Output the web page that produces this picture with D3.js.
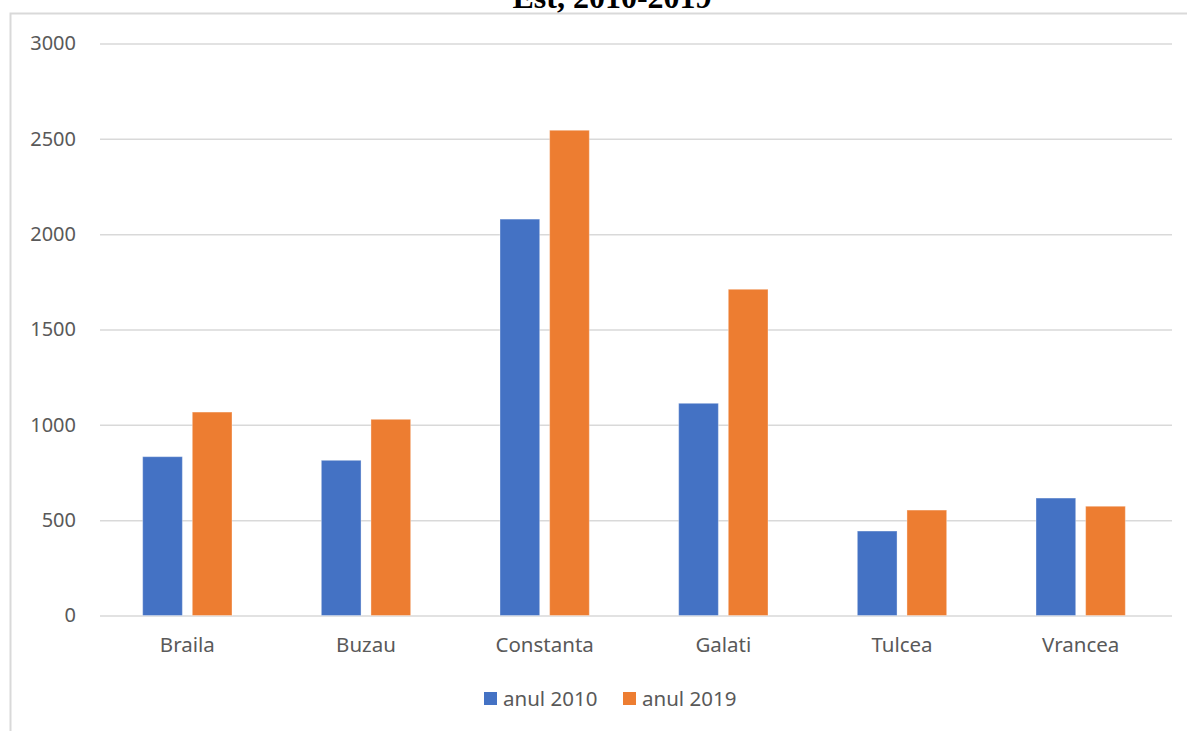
<!DOCTYPE html>
<html><head><meta charset="utf-8">
<script src="https://cdn.jsdelivr.net/npm/d3@7"></script>
<style>body{margin:0;background:#fff;}svg{display:block;}</style>
</head><body>
<script>
const categories = ["Braila","Buzau","Constanta","Galati","Tulcea","Vrancea"];
const seriesNames = ["anul 2010","anul 2019"];
const values2010 = [833, 814, 2079, 1113, 443, 616];
const values2019 = [1067, 1029, 2545, 1711, 553, 573];
const yTicks = [0,500,1000,1500,2000,2500,3000];
const colors = ["#4472C4","#ED7D31"];
const title = "Est, 2010-2019";

(function(){
const W = 1187, H = 731;
const svg = d3.select("body").append("svg").attr("width", W).attr("height", H);

// outer frame
svg.append("path").attr("d","M10.5,731 L10.5,13.5 L1187,13.5")
  .attr("fill","none").attr("stroke","#d9d9d9").attr("stroke-width",2);

// title (clipped at top, as in the reference)
svg.append("text").attr("x", 612).attr("y", 8).attr("text-anchor","middle")
  .attr("font-family","Liberation Serif, Times New Roman, serif").attr("font-weight","bold")
  .attr("font-size",32).attr("fill","#000").text(title);

const pLeft = 100, pRight = 1172, pTop = 43.5, pBottom = 615.5;
const y = d3.scaleLinear().domain([0,3000]).range([pBottom, pTop]);
const x0 = d3.scaleBand().domain(categories).range([pLeft-2, pRight-2]).paddingInner(0.5).paddingOuter(0.25);
const x1 = d3.scaleBand().domain(seriesNames).range([0, x0.bandwidth()]).paddingInner(0.2);

const font = "Noto Sans, Open Sans, sans-serif";

// gridlines
const yAxis = d3.axisLeft(y).tickValues(yTicks).tickFormat(d3.format("d")).tickSize(-(pRight-pLeft)).tickPadding(24);
const gy = svg.append("g").attr("transform", `translate(${pLeft},0)`).call(yAxis);
gy.select(".domain").remove();
gy.selectAll(".tick line").attr("stroke","#d9d9d9").attr("stroke-width",1.5);
gy.selectAll(".tick text").attr("font-family",font).attr("font-size",20).attr("fill","#595959");

// bars
const data = categories.map((c,i)=>({cat:c, vals:[values2010[i], values2019[i]]}));
const groups = svg.append("g").selectAll("g").data(data).join("g")
  .attr("transform", d=>`translate(${x0(d.cat)},0)`);
groups.selectAll("rect").data(d=>d.vals.map((v,j)=>({v, s:seriesNames[j], j})))
  .join("rect")
  .attr("x", d=>x1(d.s)).attr("width", x1.bandwidth())
  .attr("y", d=>y(d.v)).attr("height", d=>pBottom - y(d.v))
  .attr("fill", d=>colors[d.j])
  .attr("stroke","rgba(255,255,255,0.35)").attr("stroke-width",1);

// x axis labels
const xAxis = d3.axisBottom(d3.scaleBand().domain(categories).range([pLeft-2,pRight-2])).tickSize(0).tickPadding(22);
const gx = svg.append("g").attr("transform",`translate(0,${pBottom})`).call(xAxis);
gx.select(".domain").remove();
gx.selectAll(".tick text").attr("font-family",font).attr("font-size",20.5).attr("fill","#595959");

// legend
const legendX = [484, 623];
const lg = svg.append("g").selectAll("g").data(seriesNames).join("g")
  .attr("transform",(d,i)=>`translate(${legendX[i]},692)`);
lg.append("rect").attr("width",13).attr("height",13).attr("fill",(d,i)=>colors[i]);
lg.append("text").attr("x",19).attr("y",13.5).attr("font-family",font).attr("font-size",20.5)
  .attr("fill","#595959").text(d=>d);
})();
</script>
</body></html>
